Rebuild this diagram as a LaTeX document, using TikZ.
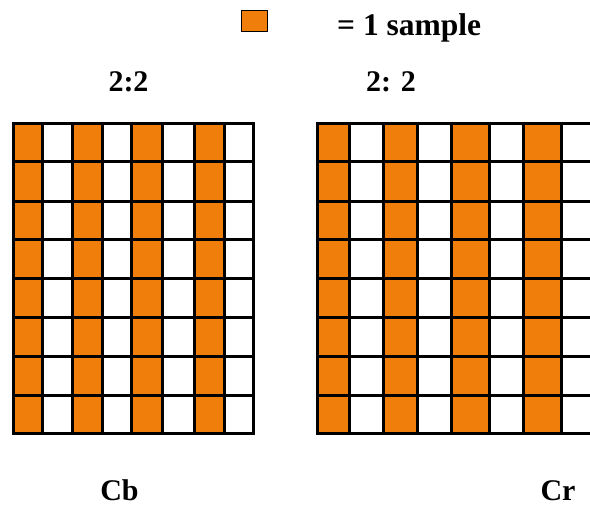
\documentclass[tikz,border=0pt]{standalone}
\usepackage{fontspec}
\setmainfont{Liberation Serif}
\definecolor{samp}{RGB}{239,127,10}
\tikzset{
  gridline/.style={line width=3pt, line cap=rect},
  label/.style={font=\fontsize{30}{35}\selectfont\bfseries, inner sep=0pt},
  sampbox/.style={fill=samp},
}
\begin{document}
\begin{tikzpicture}[x=1pt,y=-1pt]
\useasboundingbox (0,0) rectangle (590,505);
\clip (0,0) rectangle (590,505);
% legend
\draw[fill=samp, line width=1pt] (241,11) rectangle (267,32);
\node[label, font=\fontsize{31.5}{36}\selectfont\bfseries, anchor=base west] (legend) at (337,36) {= 1 sample};
% titles
\node[label, anchor=base] (t1) at (128.5,92) {2:2};
\node[label, anchor=base] (t2) at (391,92) {2: 2};
\node[label, anchor=base] (cb) at (119.5,500.5) {Cb};
\node[label, anchor=base] (cr) at (558,500.5) {Cr};
% left grid
\foreach \a/\b in {13/42,72/102,131/162,194/224}
  \fill[samp] (\a,124) rectangle (\b,434);
\foreach \x in {13,42,72,102,131,162,194,224,253}
  \draw[gridline] (\x,124) -- (\x,434);
\foreach \y in {124,162,202,240,279,318,357,396,434}
  \draw[gridline] (13,\y) -- (253,\y);
% right grid
\foreach \a/\b in {317/349,383/417,451/489,523/561}
  \fill[samp] (\a,124) rectangle (\b,434);
\foreach \x in {317,349,383,417,451,489,523,561,596}
  \draw[gridline] (\x,124) -- (\x,434);
\foreach \y in {124,162,202,240,279,318,357,396,434}
  \draw[gridline] (317,\y) -- (596,\y);
\end{tikzpicture}
\end{document}
